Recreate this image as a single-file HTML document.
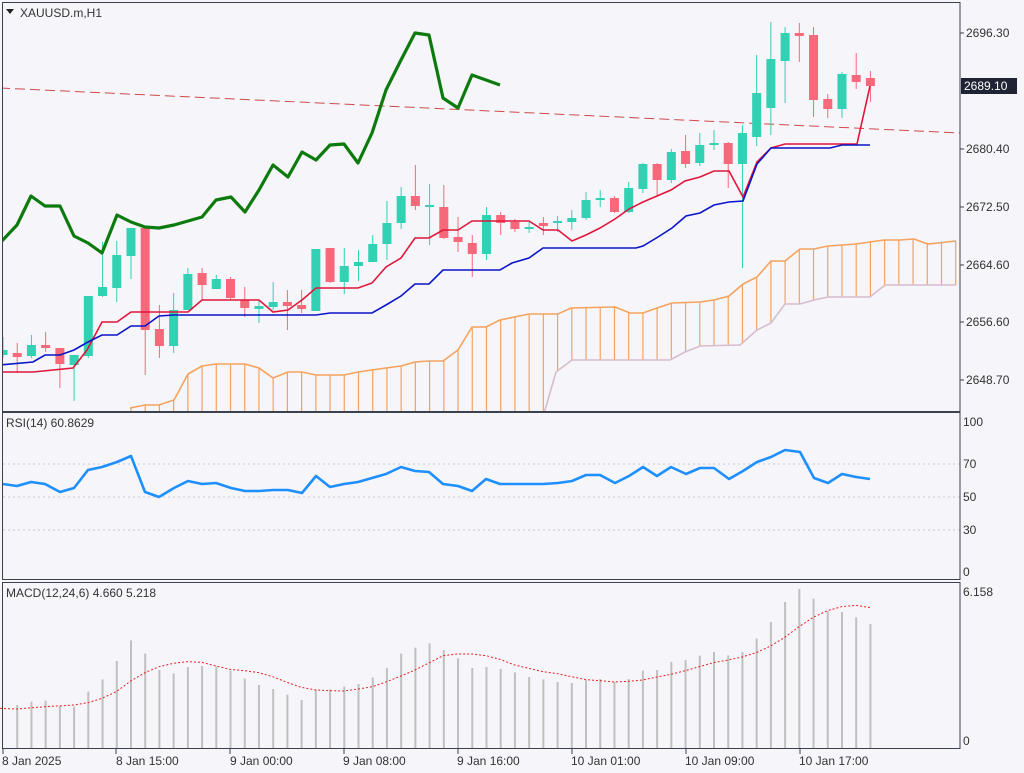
<!DOCTYPE html>
<html><head><meta charset="utf-8"><style>
html,body{margin:0;padding:0;background:#f5f5fa;}
svg{display:block;font-family:"Liberation Sans",sans-serif;font-size:12px;}
</style></head><body>
<svg id="s" width="1024" height="773" xmlns="http://www.w3.org/2000/svg">
<rect x="0" y="0" width="1024" height="773" fill="#f5f5fa"/>
<defs><clipPath id="cm"><rect x="3" y="3" width="957" height="408"/></clipPath></defs>
<g id="main" clip-path="url(#cm)"></g>
<g id="rsi"></g>
<g id="macd"></g>
<g fill="none" stroke="#3c4150" stroke-width="1">
<rect x="2.5" y="2.5" width="957.5" height="409"/>
<rect x="2.5" y="412.5" width="957.5" height="167"/>
<rect x="2.5" y="582.5" width="957.5" height="166"/>
</g>
<g fill="#333" >
<path d="M6 9 L14 9 L10 14 Z" fill="#222"/>
<text x="20" y="17">XAUUSD.m,H1</text>
<text x="6" y="427">RSI(14) 60.8629</text>
<text x="6" y="597">MACD(12,24,6) 4.660 5.218</text>
<text x="966" y="37">2696.30</text>
<text x="966" y="153">2680.40</text>
<text x="966" y="211">2672.50</text>
<text x="966" y="269">2664.60</text>
<text x="966" y="326">2656.60</text>
<text x="966" y="384">2648.70</text>
<text x="963" y="426">100</text>
<text x="963" y="468">70</text>
<text x="963" y="501">50</text>
<text x="963" y="534">30</text>
<text x="963" y="576">0</text>
<text x="963" y="596">6.158</text>
<text x="963" y="745">0</text>
<text x="2" y="765">8 Jan 2025</text>
<text x="116" y="765">8 Jan 15:00</text>
<text x="230" y="765">9 Jan 00:00</text>
<text x="343" y="765">9 Jan 08:00</text>
<text x="457" y="765">9 Jan 16:00</text>
<text x="571" y="765">10 Jan 01:00</text>
<text x="685" y="765">10 Jan 09:00</text>
<text x="799" y="765">10 Jan 17:00</text>
</g>
<g stroke="#3c4150">
<line x1="960" y1="33" x2="964" y2="33"/><line x1="960" y1="149" x2="964" y2="149"/><line x1="960" y1="207" x2="964" y2="207"/><line x1="960" y1="265" x2="964" y2="265"/><line x1="960" y1="322" x2="964" y2="322"/><line x1="960" y1="380" x2="964" y2="380"/>
<line x1="3" y1="749" x2="3" y2="754"/><line x1="116" y1="749" x2="116" y2="754"/><line x1="230" y1="749" x2="230" y2="754"/><line x1="344" y1="749" x2="344" y2="754"/><line x1="458" y1="749" x2="458" y2="754"/><line x1="572" y1="749" x2="572" y2="754"/><line x1="686" y1="749" x2="686" y2="754"/><line x1="800" y1="749" x2="800" y2="754"/>
</g>
<rect x="961" y="78" width="56" height="16" fill="#1f2333"/>
<text x="964" y="90" fill="#fff">2689.10</text>
</svg>
<script>
var NS="http://www.w3.org/2000/svg";
function el(p,t,a){var e=document.createElementNS(NS,t);for(var k in a)e.setAttribute(k,a[k]);document.getElementById(p).appendChild(e);return e;}
function X(i){return 3+14.22*i;}
function interp(pts,x){if(x<=pts[0][0])return pts[0][1];for(var i=1;i<pts.length;i++){if(x<=pts[i][0]){var a=pts[i-1],b=pts[i];return a[1]+(b[1]-a[1])*(x-a[0])/(b[0]-a[0]);}}return pts[pts.length-1][1];}
function pl(p,pts,a){a.points=pts.map(function(q){return q.join(",")}).join(" ");a.fill="none";return el(p,"polyline",a);}
var A=[[130,408],[145,405],[159,405],[174,400],[188,374],[202,366],[216,364],[245,364],[259,368],[273,378],[288,372],[302,372],[316,375],[344,375],[358,372],[372,370],[386,368],[401,366],[415,362],[429,361],[443,361],[458,350],[472,327],[486,327],[500,320],[529,314],[558,314],[571,308],[615,307],[630,313],[643,313],[657,308],[672,303],[700,302],[714,300],[729,296],[743,284],[757,277],[771,261],[785,261],[800,249],[814,249],[828,246],[842,245],[856,244],[870,242],[884,240],[900,240],[914,239],[928,244],[956,241]];
var B=[[530,430],[545,410],[556,372],[572,360],[670,360],[685,352],[700,346],[740,345],[757,330],[771,323],[785,304],[800,304],[814,300],[828,297],[870,297],[885,285],[956,285]];
for(var i=9;i<=67;i++){var x=X(i);var ya=interp(A,x),yb=x<545?412:interp(B,x);if(ya<411)el("main","line",{x1:x,y1:ya,x2:x,y2:yb,stroke:"#f5a35c","stroke-width":1.2});}
pl("main",A,{stroke:"#f5a35c","stroke-width":1.6});
pl("main",B,{stroke:"#d8bcd0","stroke-width":1.6});
el("main","line",{x1:0,y1:88,x2:960,y2:133,stroke:"#d04a4a","stroke-width":1,"stroke-dasharray":"10,5"});
var C=[["g",350,355,337,358],["r",353,357,343,373],["g",345,356,335,358],["r",345,348,332,352],["r",348,364,348,388],["g",355,365,355,401],["g",296,356,296,358],["g",287,296,242,297],["g",255,288,241,302],["g",228,256,228,279],["r",228,330,228,375],["r",329,346,305,358],["g",310,346,293,353],["g",274,310,268,310],["r",273,285,268,300],["g",279,289,275,289],["r",279,298,277,300],["r",300,308,287,317],["g",306,309,300,323],["g",302,307,282,310],["r",302,306,290,330],["r",305,309,290,313],["g",249,311,249,311],["r",248,282,248,283],["g",266,282,248,294],["g",262,266,250,281],["g",244,262,235,262],["g",223,244,201,260],["g",196,223,187,229],["r",196,206,165,210],["g",205,207,184,245],["r",207,238,185,239],["r",237,242,217,252],["r",243,254,235,277],["g",215,254,207,260],["r",215,223,212,235],["r",222,229,219,232],["g",227,228,222,233],["r",223,226,217,235],["g",221,223,216,232],["g",218,222,210,230],["g",200,218,192,220],["g",198,200,190,207],["r",198,212,196,213],["g",188,212,182,213],["g",164,189,163,193],["r",164,180,163,197],["g",152,180,149,183],["r",151,164,135,168],["g",145,163,133,166],["g",143,145,130,150],["r",143,164,142,188],["g",133,164,125,268],["g",93,137,55,146],["g",59,108,22,135],["g",33,61,27,103],["r",33,36,23,62],["r",35,100,27,117],["r",99,109,94,118],["g",74,109,72,118],["r",75,82,53,89],["r",78,86,71,102]];
C.forEach(function(c,i){var x=X(i),col=c[0]=="g"?"#33d1b4":"#f7687b";el("main","line",{x1:x,y1:c[3],x2:x,y2:c[4],stroke:col,"stroke-width":1});var h=Math.max(2,c[2]-c[1]);el("main","rect",{x:x-4.5,y:c[1],width:9,height:h,fill:col});});
pl("main",[[0,372],[33,372],[73,368],[87,350],[102,322],[117,322],[131,312],[188,312],[202,300],[259,300],[273,312],[288,310],[302,300],[316,288],[358,288],[372,283],[386,267],[401,258],[415,238],[429,238],[443,230],[458,230],[472,221],[529,221],[543,230],[558,230],[572,241],[586,235],[600,228],[615,219],[629,209],[643,202],[657,196],[671,190],[685,181],[700,177],[714,171],[729,171],[743,197],[757,162],[771,148],[785,144],[857,144],[870,86]],{stroke:"#e0163a","stroke-width":1.6});
pl("main",[[0,365],[33,362],[45,355],[60,355],[74,350],[88,342],[102,335],[117,335],[131,326],[145,326],[159,316],[174,315],[316,315],[330,313],[372,313],[386,305],[401,296],[415,284],[429,284],[443,270],[500,270],[512,263],[529,258],[543,248],[636,248],[643,246],[658,237],[672,228],[686,216],[700,213],[714,205],[729,202],[743,201],[757,164],[771,148],[830,148],[842,145],[870,145]],{stroke:"#0a14c8","stroke-width":1.6});
pl("main",[[0,243],[17,225],[31,196],[45,206],[60,206],[74,236],[88,243],[102,253],[117,215],[131,222],[145,227],[159,228],[174,225],[188,221],[202,217],[216,200],[231,197],[245,212],[259,190],[273,165],[288,177],[302,152],[316,160],[330,145],[344,144],[358,163],[372,133],[386,90],[401,60],[415,33],[429,35],[443,98],[458,108],[472,75],[486,80],[500,85]],{stroke:"#0d7a0d","stroke-width":3.2,"stroke-linejoin":"round"});
[464,497,530].forEach(function(y){el("rsi","line",{x1:3,y1:y,x2:960,y2:y,stroke:"#c8c8cc","stroke-dasharray":"2,3"});});
pl("rsi",[[3,484],[17,486],[31,482],[45,484],[60,492],[74,488],[88,470],[102,467],[117,462],[131,456],[145,492],[159,497],[174,488],[188,481],[202,484],[216,483],[231,488],[245,491],[259,491],[273,490],[288,490],[302,493],[316,476],[330,487],[344,484],[358,482],[372,478],[386,474],[401,467],[415,471],[429,472],[443,484],[458,486],[472,491],[486,479],[500,484],[529,484],[543,484],[558,483],[572,481],[586,475],[600,475],[615,483],[629,476],[643,467],[657,476],[671,467],[686,474],[700,468],[714,468],[729,479],[743,471],[757,462],[771,457],[785,450],[800,452],[814,478],[828,483],[842,474],[856,477],[870,479]],{stroke:"#1e8fff","stroke-width":2.6,"stroke-linejoin":"round"});
var T1=[900,890,887,902,905,860,823,768,706,746,795,805,786,783,784,797,821,840,852,869,885,853,853,845,837,818,789,746,728,715,735,760,789,786,792];
var T2=[802,816,823,831,834,825,822,830,822,797,795,771,765,752,741,751,741,701,651,591,552,581,618,621,637,657];
T1.forEach(function(t,k){var x=X(k+1);el("macd","line",{x1:x,y1:405+t/3,x2:x,y2:748,stroke:"#c0c0c0","stroke-width":2});});
T2.forEach(function(t,k){var x=X(k+36);el("macd","line",{x1:x,y1:405+t/3,x2:x,y2:748,stroke:"#c0c0c0","stroke-width":2});});
var S1=[[0,910],[50,912],[136,905],[222,900],[264,893],[306,880],[349,860],[392,828],[435,803],[477,785],[520,775],[562,770],[605,772],[648,783],[690,793],[733,797],[776,803],[818,815],[861,832],[904,847],[946,855],[989,857],[1032,858],[1075,852],[1118,845],[1160,830],[1203,813],[1245,795],[1288,773],[1330,752],[1373,747],[1416,747],[1458,752],[1500,763]].map(function(p){return [p[0]/3,405+p[1]/3]});
var S2=[[8,780],[50,790],[93,800],[136,806],[179,815],[222,824],[264,827],[306,831],[349,829],[392,825],[435,816],[477,808],[520,797],[562,785],[605,773],[648,765],[690,756],[733,743],[776,723],[818,697],[861,665],[904,637],[946,617],[989,605],[1032,601],[1075,608]].map(function(p){return [512+p[0]/3,405+p[1]/3]});
pl("macd",S1.concat(S2),{stroke:"#e82020","stroke-width":1,"stroke-dasharray":"2,2"});
</script>
</body></html>
